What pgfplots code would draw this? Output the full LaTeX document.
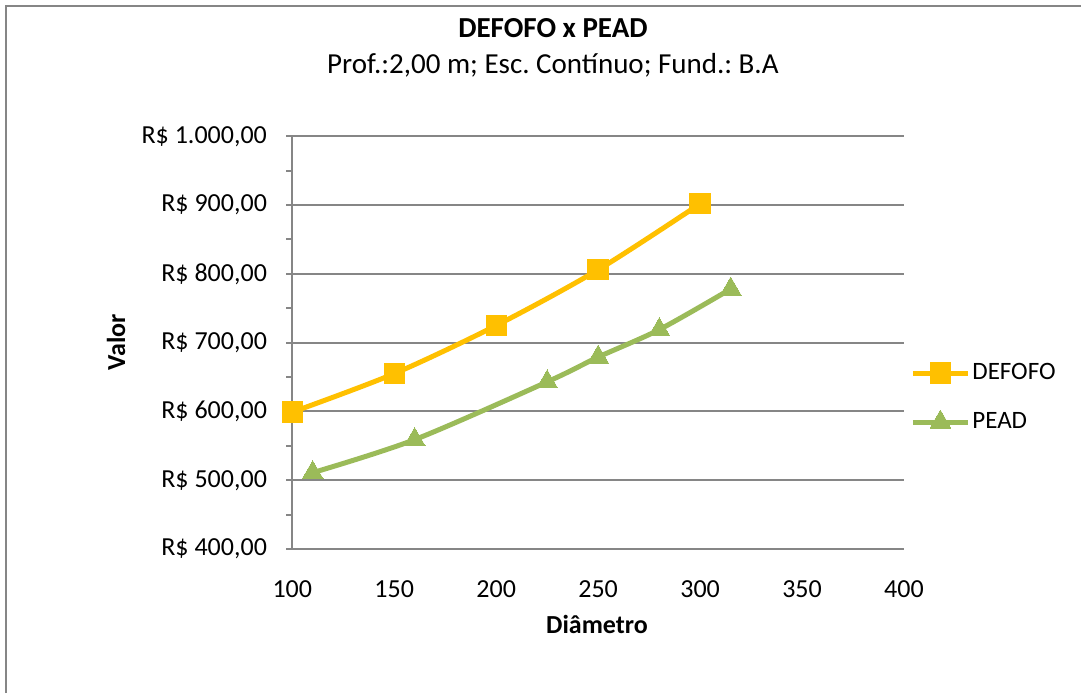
\documentclass[border=0pt]{standalone}
\usepackage{fontspec}
\setmainfont{Carlito}
\usepackage{pgfplots}
\pgfplotsset{compat=1.18}

\definecolor{defofo}{HTML}{FFC000}
\definecolor{pead}{HTML}{9BBB59}
\definecolor{axgray}{HTML}{868686}

\begin{document}
\frenchspacing
\begin{tikzpicture}
\path[use as bounding box] (0,0) rectangle (540.5pt,346.5pt);
\draw[axgray, line width=1pt] (3pt,0) -- (3pt,343.75pt) -- (540.5pt,343.75pt);

\begin{axis}[
  at={(146.15pt,72pt)}, anchor=south west,
  scale only axis, width=305.85pt, height=206.35pt,
  xmin=100, xmax=400, ymin=400, ymax=1000,
  axis x line=bottom, axis y line=left,
  axis line style={-, axgray, line width=1pt},
  xtick={100,150,...,400},
  xticklabels={100,150,200,250,300,350,400},
  ytick={400,500,...,1000},
  yticklabels={R\$ 400{,}00,R\$ 500{,}00,R\$ 600{,}00,R\$ 700{,}00,R\$ 800{,}00,R\$ 900{,}00,R\$ 1.000{,}00},
  minor ytick={450,550,...,950},
  tick align=outside,
  major tick length=3pt, minor tick length=3pt,
  xtick style={draw=none},
  ytick style={axgray, line width=1pt},
  minor tick style={axgray, line width=1pt},
  ymajorgrids, grid style={axgray, line width=1pt},
  ticklabel style={font=\fontsize{13}{15}\selectfont, inner sep=0pt},
  yticklabel style={anchor=east, xshift=-9.5pt},
  xticklabel style={anchor=north, yshift=-12.5pt},
  clip=false,
  legend style={draw=none, fill=none, inner sep=0pt,
    at={(axis description cs:1.0098,0.367)}, anchor=west,
    font=\fontsize{12.5}{14}\selectfont,
    nodes={inner sep=0pt, text height=9pt, text depth=3pt, anchor=west},
    row sep=12.5pt},
  legend cell align=left,
  legend image code/.code={
    \draw[mark repeat=2, mark phase=2] plot coordinates {(0pt,0pt) (13.75pt,0pt) (27.5pt,0pt)};
  },
]
\addplot[defofo, line width=2.5pt, smooth, tension=0.5, mark=square*,
  mark size=5.1pt, mark options={solid, line width=0pt}]
  coordinates { (100,599) (150,655) (200,725) (250,806) (300,902) };
\addlegendentry{\hspace{1pt}DEFOFO}
\addplot[pead, line width=2.5pt, smooth, tension=0.5, mark=triangle*,
  mark size=6pt, mark options={solid, line width=0pt}]
  coordinates { (110,511) (160,559) (225,643) (250,679) (280,719) (315,778) };
\addlegendentry{\hspace{1pt}PEAD}
\end{axis}

\node[anchor=base, font=\fontsize{14.5}{16}\selectfont\bfseries] at (276.5pt,328pt) {DEFOFO x PEAD};
\node[anchor=base, font=\fontsize{14.5}{16}\selectfont] at (276.5pt,310pt) {Prof.:2,00 m; Esc. Contínuo; Fund.: B.A};
\node[rotate=90, font=\fontsize{13}{15}\selectfont\bfseries] at (58pt,175.5pt) {Valor};
\node[anchor=base, font=\fontsize{13}{15}\selectfont\bfseries] at (298.5pt,30pt) {Diâmetro};
\end{tikzpicture}
\end{document}
